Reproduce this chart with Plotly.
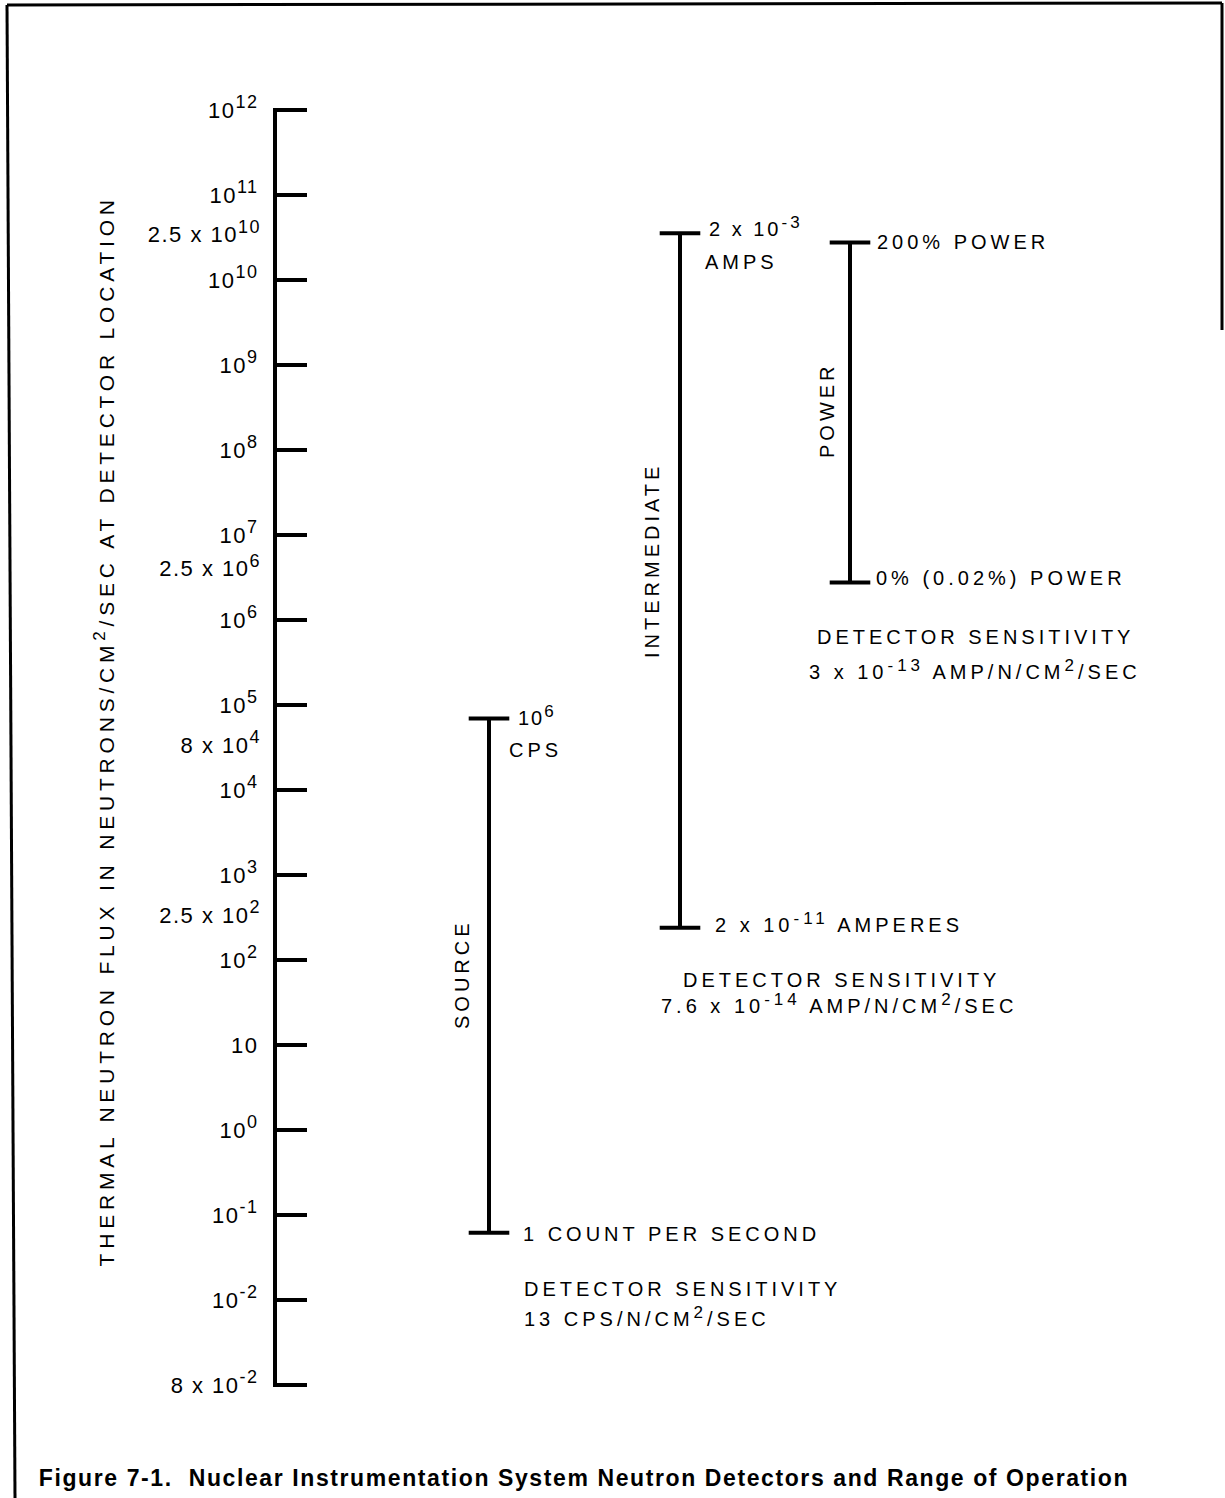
import json
import plotly.graph_objects as go

# ---------------- data ----------------
def sup(s, size=17):
    return "<sup><span style='font-size:%dpx'>%s</span></sup>" % (size, s)

main_tick_pos = [12, 11, 10, 9, 8, 7, 6, 5, 4, 3, 2, 1, 0, -1, -2, -3]
main_tick_text = ["10" + sup("12", 18), "10" + sup("11", 18), "10" + sup("10", 18), "10" + sup("9", 18),
                  "10" + sup("8", 18), "10" + sup("7", 18), "10" + sup("6", 18), "10" + sup("5", 18),
                  "10" + sup("4", 18), "10" + sup("3", 18), "10" + sup("2", 18), "10",
                  "10" + sup("0", 18), "10" + sup("-1", 18), "10" + sup("-2", 18),
                  "8 x 10" + sup("-2", 18)]
extra_tick_pos = [10.54, 6.61, 4.53, 2.53]
extra_tick_text = ["2.5 x 10" + sup("10", 18), "2.5 x 10" + sup("6", 18),
                   "8 x 10" + sup("4", 18), "2.5 x 10" + sup("2", 18)]

detectors = ["SOURCE", "INTERMEDIATE", "POWER"]
range_low = [-1.21, 2.38, 6.44]
range_high = [4.84, 10.55, 10.44]

top_labels = [["10" + sup("6"), "CPS"], ["2 x 10" + sup("-3"), "AMPS"], ["200% POWER"]]
bottom_labels = ["1 COUNT PER SECOND", "2 x 10" + sup("-11") + " AMPERES", "0% (0.02%) POWER"]
sens_labels = [["DETECTOR SENSITIVITY", "13 CPS/N/CM" + sup("2") + "/SEC"],
               ["DETECTOR SENSITIVITY", "7.6 x 10" + sup("-14") + " AMP/N/CM" + sup("2") + "/SEC"],
               ["DETECTOR SENSITIVITY", "3 x 10" + sup("-13") + " AMP/N/CM" + sup("2") + "/SEC"]]

y_title = "THERMAL NEUTRON FLUX IN NEUTRONS/CM" + sup("2") + "/SEC AT DETECTOR LOCATION"
caption = "Figure 7-1.  Nuclear Instrumentation System Neutron Detectors and Range of Operation"

# ---------------- layout constants ----------------
W, H = 1225, 1498
FONT = "Liberation Sans, Arial, Helvetica, sans-serif"
AXIS_X = 275
PX_PER_DEC = 85.0
TOP_PX = 110            # px of value 12
PAD = 0.02              # range padding (decades) so end ticks are kept
DET_X = [489, 680, 850]


def px(x):
    return x / W


def py(y):
    return 1 - y / H


fig = go.Figure()
for i, name in enumerate(detectors):
    fig.add_trace(go.Scatter(
        x=[DET_X[i], DET_X[i]], y=[range_low[i], range_high[i]],
        mode="lines+markers", name=name,
        line=dict(color="black", width=4),
        marker=dict(symbol="line-ew", size=29, color="black",
                    line=dict(width=4, color="black")),
        showlegend=False, hoverinfo="skip", cliponaxis=False))
fig.add_trace(go.Scatter(x=[None], y=[None], yaxis="y2", showlegend=False, hoverinfo="skip"))

rng = [-3 - PAD, 12 + PAD]
top_px = TOP_PX - PAD * PX_PER_DEC
bot_px = TOP_PX + (12 - rng[0]) * PX_PER_DEC
dom = [1 - bot_px / H, 1 - top_px / H]
common_y = dict(range=rng, domain=dom, anchor="free", position=px(AXIS_X),
                showgrid=False, zeroline=False, fixedrange=True, automargin=False,
                tickfont=dict(family=FONT, size=22, color="black"))

fig.update_layout(
    template="none", showlegend=False,
    width=W, height=H, margin=dict(l=0, r=0, t=0, b=0, pad=0, autoexpand=False),
    autosize=False, paper_bgcolor="white", plot_bgcolor="white",
    xaxis=dict(range=[0, W], domain=[0, 1], visible=False, fixedrange=True,
               automargin=False),
    yaxis=dict(**common_y, showline=True, linecolor="black", linewidth=4,
               ticks="inside", ticklen=30, tickwidth=4, tickcolor="black",
               tickmode="array", tickvals=main_tick_pos, ticktext=main_tick_text,
               ticklabelstandoff=10),
    yaxis2=dict(**common_y, overlaying="y", showline=False, ticks="",
                tickmode="array", tickvals=extra_tick_pos, ticktext=extra_tick_text,
                ticklabelstandoff=14),
)

ann = []
spacing = []


def text(t, x, y, size=20, angle=0, bold=False, ls=4.0):
    ann.append(dict(text=t, x=px(x), y=py(y), xref="paper", yref="paper",
                    showarrow=False, xanchor="center", yanchor="middle",
                    textangle=angle,
                    font=dict(family=FONT, size=size, color="black",
                              weight="bold" if bold else "normal")))
    spacing.append(ls)


text(top_labels[0][0], 537, 716, ls=2)
text(top_labels[0][1], 535, 750)
text(detectors[0], 462, 974, angle=-90)
text(bottom_labels[0], 671, 1234)
text(sens_labels[0][0], 682, 1289)
text(sens_labels[0][1], 647, 1316)
text(top_labels[1][0], 756, 226, ls=3)
text(top_labels[1][1], 741, 262)
text(detectors[1], 652, 561, angle=-90)
text(bottom_labels[1], 839, 923)
text(sens_labels[1][0], 841, 980)
text(sens_labels[1][1], 839, 1003)
text(top_labels[2][0], 963, 242)
text(detectors[2], 827, 410, angle=-90)
text(bottom_labels[2], 1001, 578)
text(sens_labels[2][0], 975, 637)
text(sens_labels[2][1], 975, 669)
text(y_title, 104, 731, size=21, angle=-90, ls=4.8)
text(caption, 584, 1478, size=23, bold=True, ls=1.6)

fig.update_layout(annotations=ann)

frame = [(7, 5, 1222, 3), (7, 5, 15, H), (1222, 3, 1222, 330)]
fig.update_layout(shapes=[dict(type="line", xref="paper", yref="paper",
                               x0=px(a), y0=py(b), x1=px(c), y1=py(d),
                               line=dict(color="black", width=3))
                          for a, b, c, d in frame])

post = """
document.documentElement.style.margin='0';
document.body.style.margin='0';
var gd=document.getElementById('{plot_id}');
var sp=%s;
gd.querySelectorAll('g.annotation').forEach(function(g){
  var i=+g.getAttribute('data-index');
  g.querySelectorAll('.annotation-text').forEach(function(t){ t.style.letterSpacing=sp[i]+'px'; });
});
gd.querySelectorAll('.ytick text, .y2tick text').forEach(function(t){ t.style.letterSpacing='1.5px'; });
""" % json.dumps(spacing)

fig.write_html("out.html", config={"displayModeBar": False}, post_script=post)
